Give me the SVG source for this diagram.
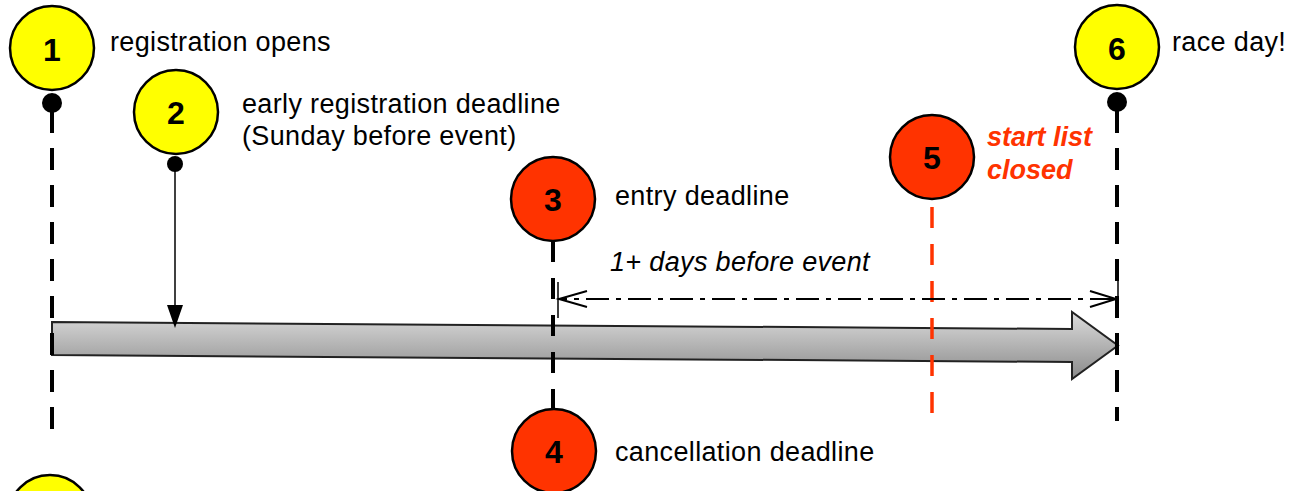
<svg xmlns="http://www.w3.org/2000/svg" width="1297" height="491" viewBox="0 0 1297 491">
<style>
.lbl{font-family:"Liberation Sans",Arial,sans-serif;font-size:27px;letter-spacing:0.35px;fill:#000}
.it{font-style:italic}
.red{fill:#ff3300;font-weight:bold;font-style:italic;letter-spacing:0px}
.num{font-family:"Liberation Sans",Arial,sans-serif;font-size:32px;font-weight:bold;text-anchor:middle;fill:#000}
.yel{fill:#ffff00;stroke:#000;stroke-width:2.5}
.rd{fill:#ff3300;stroke:#000;stroke-width:2.5}
.dash{fill:none;stroke:#000;stroke-width:4;stroke-dasharray:22 15}
</style>
<defs>
<linearGradient id="g" x1="0" y1="0" x2="0" y2="1">
<stop offset="0" stop-color="#dcdcdc"/>
<stop offset="1" stop-color="#8a8a8a"/>
</linearGradient>
</defs>
<g id="timeline">
<polygon points="52,322 1072,329 1072,312 1118,345.5 1072,379 1072,362 52,355" fill="url(#g)" stroke="#222" stroke-width="2"/>
</g>
<g id="connectors">
<line x1="52" y1="111" x2="52" y2="430" class="dash"/>
<line x1="1117" y1="111" x2="1117" y2="421" class="dash"/>
<line x1="553" y1="241" x2="553" y2="410" class="dash" style="stroke-dasharray:21 16"/>
<line x1="932" y1="207" x2="932" y2="414" class="dash" style="stroke:#ff3300;stroke-width:3.5;stroke-dasharray:21 16"/>
<line x1="175" y1="163" x2="175" y2="306" stroke="#000" stroke-width="1.5"/>
<polygon points="167,305 183,305 175,328" fill="#000"/>
<line x1="558" y1="282" x2="558" y2="318" stroke="#000" stroke-width="1.5"/>
<line x1="1118" y1="281" x2="1118" y2="317" stroke="#000" stroke-width="1.5"/>
<line x1="558" y1="299" x2="1117" y2="299" stroke="#000" stroke-width="2" stroke-dasharray="23 7 5 7" stroke-dashoffset="14"/>
<polyline points="587,291 559,299 587,307" fill="none" stroke="#000" stroke-width="2"/>
<polyline points="1090,291 1116,299 1090,307" fill="none" stroke="#000" stroke-width="2"/>
</g>
<g id="node1">
<circle cx="52" cy="48" r="42" class="yel"/>
<circle cx="52" cy="103" r="10" fill="#000"/>
<text x="52" y="61" class="num">1</text>
<text x="110" y="51" class="lbl">registration opens</text>
</g>
<g id="node2">
<circle cx="176" cy="112" r="42" class="yel"/>
<circle cx="175" cy="164" r="8" fill="#000"/>
<text x="176" y="124" class="num">2</text>
<text x="242" y="113" class="lbl">early registration deadline</text>
<text x="242" y="145" class="lbl">(Sunday before event)</text>
</g>
<g id="node3">
<circle cx="553" cy="199" r="42" class="rd"/>
<text x="553" y="211" class="num">3</text>
<text x="615" y="205" class="lbl">entry deadline</text>
</g>
<g id="node4">
<circle cx="554" cy="451" r="42" class="rd"/>
<text x="554" y="463" class="num">4</text>
<text x="615" y="461" class="lbl">cancellation deadline</text>
</g>
<g id="node5">
<circle cx="932" cy="157" r="42" class="rd"/>
<text x="932" y="169" class="num">5</text>
<text x="987" y="146" class="lbl red">start list</text>
<text x="987" y="179" class="lbl red">closed</text>
</g>
<g id="node6">
<circle cx="1117" cy="47" r="42" class="yel"/>
<circle cx="1117" cy="102" r="10" fill="#000"/>
<text x="1117" y="60" class="num">6</text>
<text x="1172" y="51" class="lbl">race day!</text>
</g>
<g id="node7">
<circle cx="50" cy="517" r="42" class="yel"/>
</g>
<g id="dimlabel">
<text x="610" y="271" class="lbl it">1+ days before event</text>
</g>
</svg>
